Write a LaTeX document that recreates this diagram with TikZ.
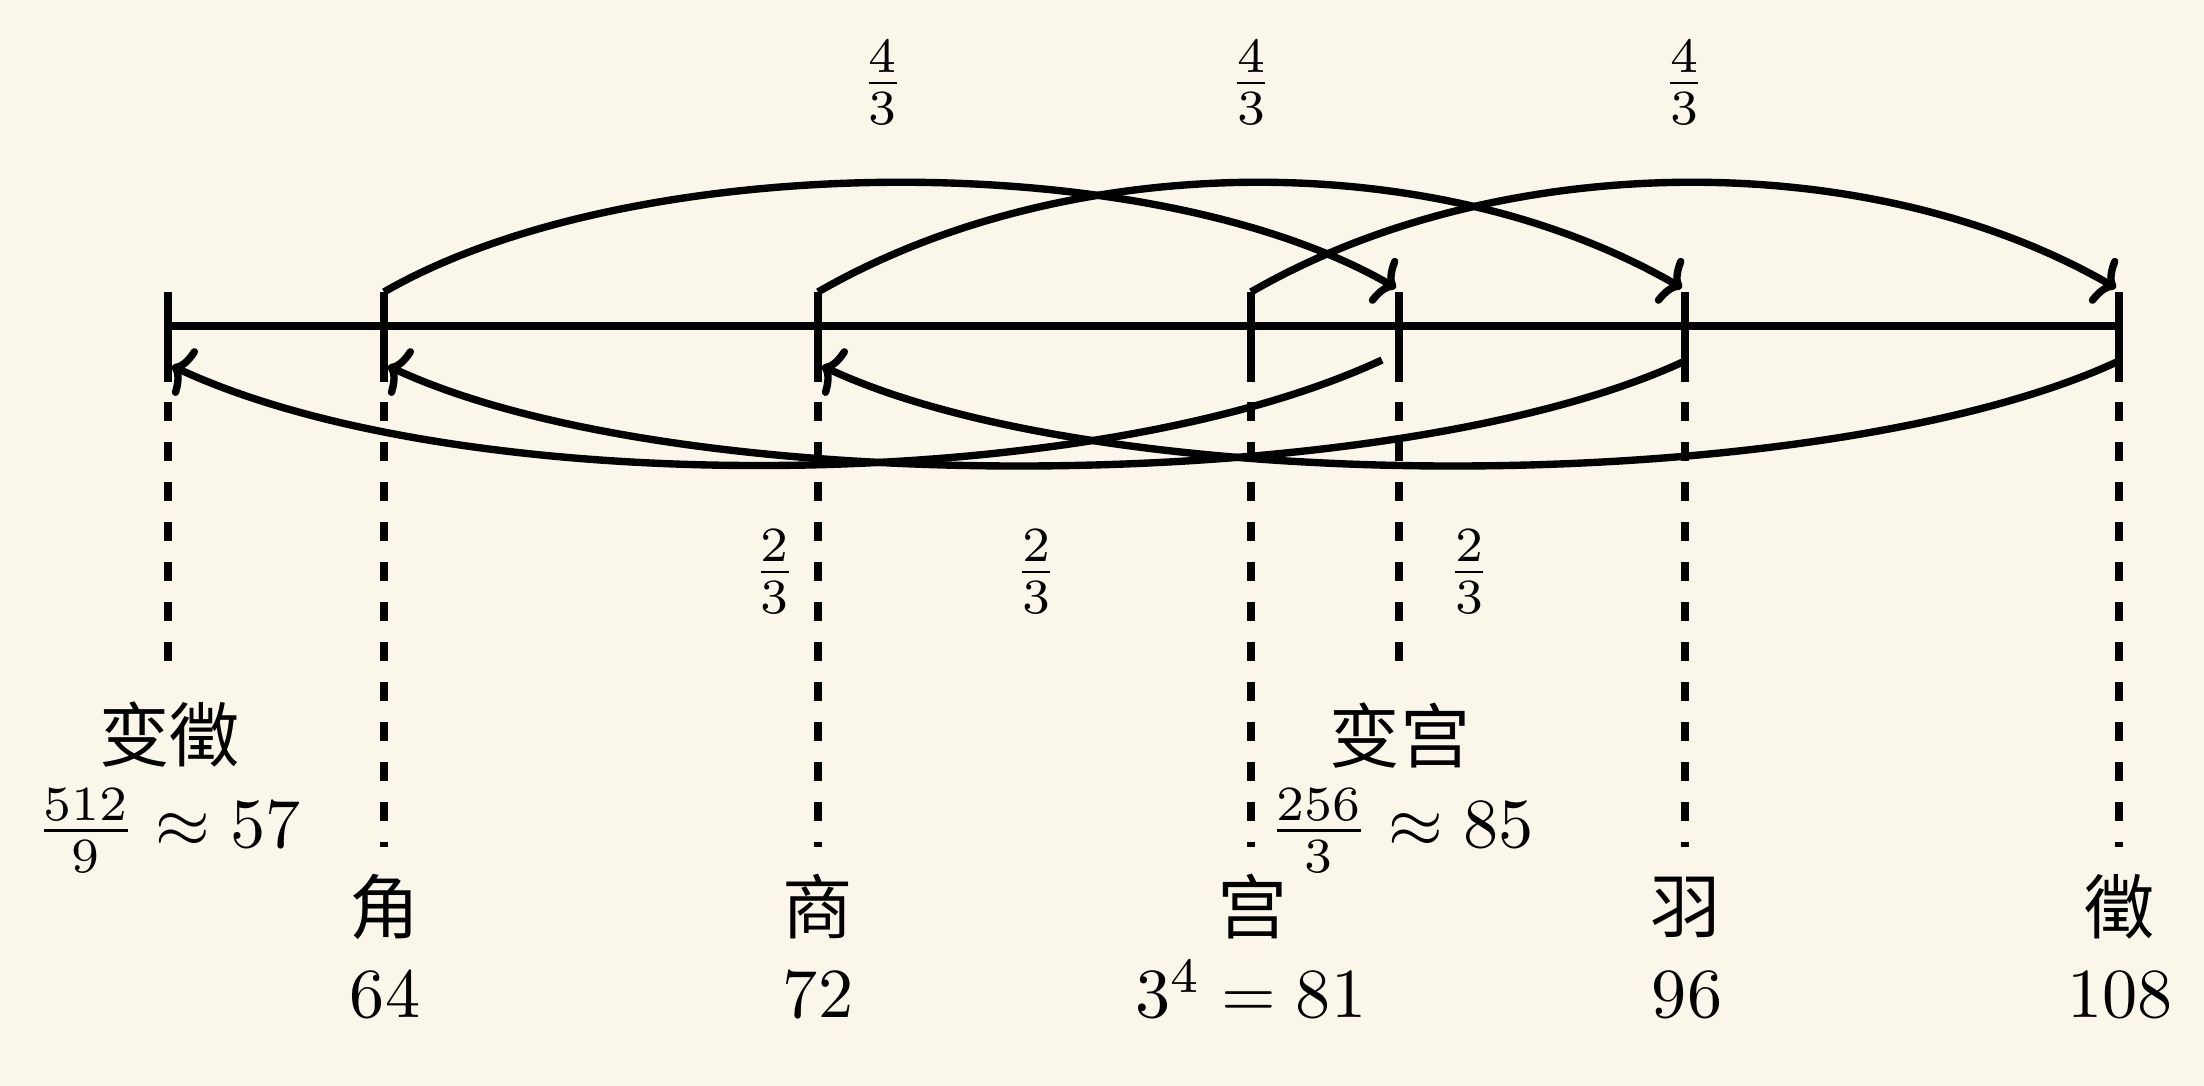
\documentclass[tikz,border=0pt]{standalone}
\usepackage{fontspec}
\newfontfamily\cjk{Noto Sans CJK SC}
\usetikzlibrary{arrows.meta}
\definecolor{bgbeige}{RGB}{250,246,234}
\begin{document}
\begin{tikzpicture}[
  x=1cm,y=1cm,
  every node/.style={font=\fontsize{10}{12}\selectfont, scale=2, inner sep=0pt, outer sep=0pt},
  axisline/.style={line width=2.1pt},
  tickline/.style={line width=2.1pt},
  guide/.style={line width=2.1pt, dash pattern=on 0.19cm off 0.21cm},
  arcarrow/.style={line width=2.1pt, -{Computer Modern Rightarrow[length=0.18cm,width=0.52cm]}},
  cn/.style={font=\fontsize{10}{12}\selectfont\cjk},
  num/.style={anchor=base},
]
\fill[bgbeige] (0,0) rectangle (22.04,-10.86);
\useasboundingbox (0,0) rectangle (22.04,-10.86);

% tick coordinates
\foreach \n/\x/\e in {bz/1.68/6.62, jue/3.84/8.47, shang/8.18/8.47, gong/12.51/8.47, bg/13.99/6.62, yu/16.85/8.47, zhi/21.19/8.47}{
  \coordinate (\n-top) at (\x,-2.92);
  \coordinate (\n-mid) at (\x,-3.26);
  \coordinate (\n-sb) at (\x,-3.82);
  \coordinate (\n-ds) at (\x,-4.02);
  \coordinate (\n-end) at (\x,-\e);
  \coordinate (\n-in) at (\x-0.03,-2.88);
  \coordinate (\n-lo) at (\x,-3.61);
  \coordinate (\n-lin) at (\x+0.04,-3.66);
}
\coordinate (bg-lo2) at (13.82,-3.60);

% main line
\draw[axisline] (bz-mid) -- (zhi-mid);

% ticks and dashed guides
\foreach \n in {bz,jue,shang,gong,bg,yu,zhi}{
  \draw[tickline] (\n-top) -- (\n-sb);
  \draw[guide] (\n-ds) -- (\n-end);
}

% upper arcs (4/3)
\draw[arcarrow] (jue-top) to[out=30,in=150,distance=2.86cm] (bg-in);
\draw[arcarrow] (shang-top) to[out=30,in=150,distance=2.86cm] (yu-in);
\draw[arcarrow] (gong-top) to[out=30,in=150,distance=2.86cm] (zhi-in);

% lower arcs (2/3)
\draw[arcarrow] (bg-lo2) to[out=205,in=-25,distance=3.22cm] (bz-lin);
\draw[arcarrow] (yu-lo) to[out=205,in=-25,distance=3.22cm] (jue-lin);
\draw[arcarrow] (zhi-lo) to[out=205,in=-25,distance=3.22cm] (shang-lin);

% ratio labels
\node (r1) at (8.83,-0.83) {$\frac{4}{3}$};
\node (r2) at (12.51,-0.83) {$\frac{4}{3}$};
\node (r3) at (16.84,-0.83) {$\frac{4}{3}$};
\node (s1) at (7.75,-5.72) {$\frac{2}{3}$};
\node (s2) at (10.36,-5.72) {$\frac{2}{3}$};
\node (s3) at (14.69,-5.72) {$\frac{2}{3}$};

% note names
\node[cn] (nbz) at (1.70,-7.35) {变徵};
\node[num] (vbz) at (1.68,-8.48) {$\frac{512}{9}\approx 57$};
\node[cn] (nbg) at (14.00,-7.36) {变宫};
\node[num] (vbg) at (14.01,-8.48) {$\frac{256}{3}\approx 85$};
\node[cn] (njue) at (3.85,-9.07) {角};
\node[cn] (nshang) at (8.18,-9.07) {商};
\node[cn] (ngong) at (12.53,-9.07) {宫};
\node[cn] (nyu) at (16.86,-9.07) {羽};
\node[cn] (nzhi) at (21.20,-9.07) {徵};
\node[num] (vjue) at (3.85,-10.18) {$64$};
\node[num] (vshang) at (8.18,-10.18) {$72$};
\node[num] (vgong) at (12.51,-10.18) {$3^4=81$};
\node[num] (vyu) at (16.87,-10.18) {$96$};
\node[num] (vzhi) at (21.20,-10.18) {$108$};
\end{tikzpicture}
\end{document}
